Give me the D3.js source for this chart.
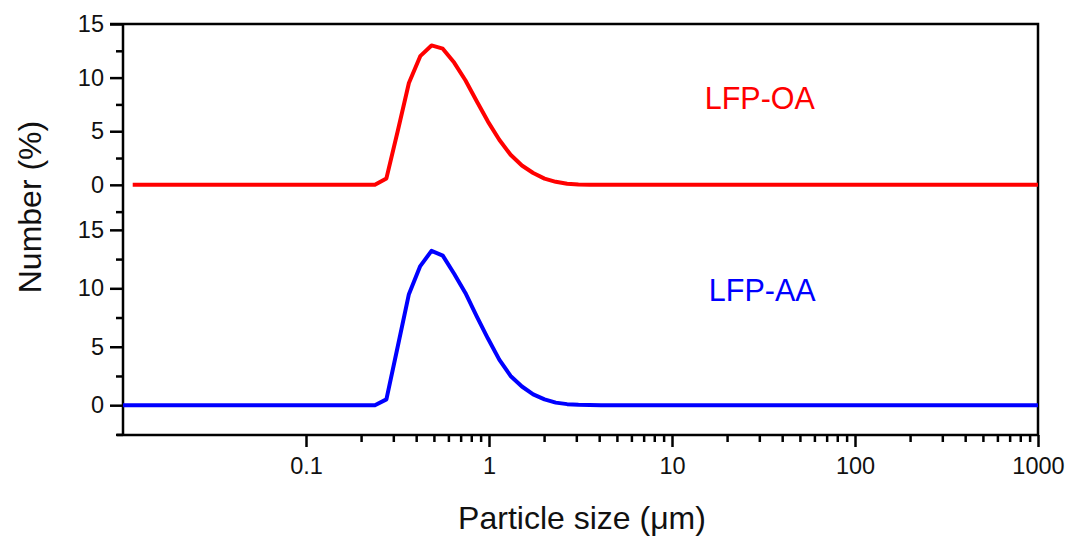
<!DOCTYPE html>
<html>
<head>
<meta charset="utf-8">
<script src="https://cdn.jsdelivr.net/npm/d3@7"></script>
<style>
  html, body { margin: 0; padding: 0; background: #fff; }
  svg { display: block; }
  text { font-family: "Liberation Sans", Arial, sans-serif; }
</style>
</head>
<body>
<svg id="chart" width="1074" height="542"></svg>
<script>
// ---- data ----
const sizesOA = [0.0113, 0.238, 0.275, 0.317, 0.365, 0.421, 0.485, 0.559, 0.645, 0.743, 0.857, 0.987, 1.138, 1.312, 1.513, 1.744, 2.011, 2.317, 2.672, 3.080, 3.550, 4.093, 1000];
const numberOA = [0, 0, 0.6, 5.0, 9.5, 12.0, 13.0, 12.7, 11.4, 9.75, 7.8, 5.9, 4.2, 2.8, 1.8, 1.1, 0.58, 0.28, 0.1, 0.04, 0.01, 0, 0];
const sizesAA = [0.01, 0.238, 0.275, 0.317, 0.365, 0.421, 0.485, 0.559, 0.645, 0.743, 0.857, 0.987, 1.138, 1.312, 1.513, 1.744, 2.011, 2.317, 2.672, 3.080, 3.550, 4.093, 1000];
const numberAA = [0, 0, 0.5, 5.0, 9.5, 11.9, 13.2, 12.8, 11.25, 9.6, 7.6, 5.7, 3.9, 2.5, 1.6, 0.93, 0.5, 0.22, 0.09, 0.03, 0.01, 0, 0];

const xMajorTicks = [0.1, 1, 10, 100, 1000];
const xTickLabels = ["0.1", "1", "10", "100", "1000"];
const xMinorTicks = [0.2,0.3,0.4,0.5,0.6,0.7,0.8,0.9, 2,3,4,5,6,7,8,9, 20,30,40,50,60,70,80,90, 200,300,400,500,600,700,800,900];
const yMajorTicks = [0, 5, 10, 15];
const yMinorTicks = [-2.5, 2.5, 7.5, 12.5];
const seriesNames = ["LFP-OA", "LFP-AA"];
const seriesColors = ["#ff0000", "#0000ff"];

// ---- layout ----
const svg = d3.select("#chart");
const pLeft = 123, pRight = 1038, pTop = 24, pMid = 217, pBottom = 435;

const x = d3.scaleLog().domain([0.01, 1000]).range([pLeft, pRight]);
const yTop = d3.scaleLinear().domain([-3, 15]).range([pMid, pTop]);
const yBot = d3.scaleLinear().domain([-2.55, 16.1]).range([pBottom, pMid]);

const axisColor = "#000";
const tickFont = "23.5px";
const titleFont = "32px";

function styleAxis(g) {
  g.select(".domain").remove();
  g.selectAll(".tick line").attr("stroke", axisColor).attr("stroke-width", 2.5);
  g.selectAll(".tick text").attr("fill", "#111").style("font-size", tickFont)
    .style("font-family", "'Liberation Sans', Arial, sans-serif");
}

// y axes
[yTop, yBot].forEach(ys => {
  svg.append("g").attr("transform", `translate(${pLeft},0)`)
    .call(d3.axisLeft(ys).tickValues(yMajorTicks).tickSize(13).tickPadding(6).tickFormat(d3.format("d")))
    .call(styleAxis);
  svg.append("g").attr("transform", `translate(${pLeft},0)`)
    .call(d3.axisLeft(ys).tickValues(yMinorTicks).tickSize(7).tickFormat(""))
    .call(styleAxis);
});

// x axis
svg.append("g").attr("transform", `translate(0,${pBottom})`)
  .call(d3.axisBottom(x).tickValues(xMajorTicks).tickSize(12).tickPadding(10)
        .tickFormat((d, i) => xTickLabels[i]))
  .call(styleAxis);
svg.append("g").attr("transform", `translate(0,${pBottom})`)
  .call(d3.axisBottom(x).tickValues(xMinorTicks).tickSize(7).tickFormat(""))
  .call(styleAxis);

// frame
svg.append("path")
  .attr("d", `M${pLeft},${pTop}H${pRight}V${pBottom}H${pLeft - 6}M${pLeft},${pBottom}V${pTop}M${pLeft - 13},${pTop}H${pLeft}`)
  .attr("fill", "none").attr("stroke", axisColor).attr("stroke-width", 2.5);

// lines
const lineTop = d3.line().x(d => x(d[0])).y(d => yTop(d[1]));
const lineBot = d3.line().x(d => x(d[0])).y(d => yBot(d[1]));

svg.append("path")
  .attr("d", lineTop(d3.zip(sizesOA, numberOA)))
  .attr("fill", "none").attr("stroke", seriesColors[0]).attr("stroke-width", 4)
  .attr("stroke-linejoin", "round");
svg.append("path")
  .attr("d", lineBot(d3.zip(sizesAA, numberAA)))
  .attr("fill", "none").attr("stroke", seriesColors[1]).attr("stroke-width", 4)
  .attr("stroke-linejoin", "round");

// series labels
svg.append("text").attr("x", x(15.1)).attr("y", yTop(7.1))
  .attr("fill", seriesColors[0]).style("font-size", "30.5px").text(seriesNames[0]);
svg.append("text").attr("x", x(15.9)).attr("y", yBot(8.9))
  .attr("fill", seriesColors[1]).style("font-size", "30.5px").text(seriesNames[1]);

// axis titles
svg.append("text").attr("x", 582).attr("y", 529)
  .attr("text-anchor", "middle").attr("fill", "#111").style("font-size", titleFont)
  .text("Particle size (\u03bcm)");
svg.append("text").attr("transform", `translate(41,207) rotate(-90)`)
  .attr("text-anchor", "middle").attr("fill", "#111").style("font-size", titleFont)
  .text("Number (%)");
</script>
</body>
</html>
